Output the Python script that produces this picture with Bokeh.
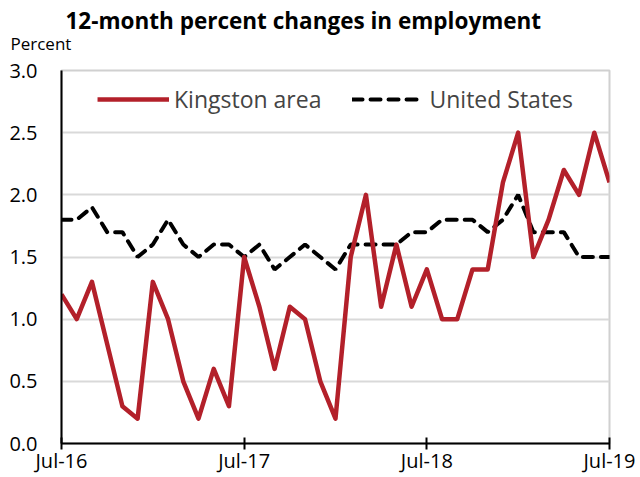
from bokeh.plotting import figure
from bokeh.models import FixedTicker, Label, Legend, LegendItem, NumeralTickFormatter
from bokeh.embed import file_html
from bokeh.resources import INLINE

months = list(range(37))
tick_positions = [0, 12, 24, 36]
tick_labels = ["Jul-16", "Jul-17", "Jul-18", "Jul-19"]

kingston = [1.2, 1.0, 1.3, 0.8, 0.3, 0.2, 1.3, 1.0, 0.5, 0.2, 0.6, 0.3,
            1.5, 1.1, 0.6, 1.1, 1.0, 0.5, 0.2, 1.5, 2.0, 1.1, 1.6, 1.1,
            1.4, 1.0, 1.0, 1.4, 1.4, 2.1, 2.5, 1.5, 1.8, 2.2, 2.0, 2.5, 2.1]
united_states = [1.8, 1.8, 1.9, 1.7, 1.7, 1.5, 1.6, 1.8, 1.6, 1.5, 1.6, 1.6,
                 1.5, 1.6, 1.4, 1.5, 1.6, 1.5, 1.4, 1.6, 1.6, 1.6, 1.6, 1.7,
                 1.7, 1.8, 1.8, 1.8, 1.7, 1.8, 2.0, 1.7, 1.7, 1.7, 1.5, 1.5, 1.5]

FONT = "Open Sans"

p = figure(width=640, height=477, output_backend="svg", toolbar_location=None,
           x_range=(0, 36), y_range=(0, 3.0),
           min_border_left=61, min_border_right=31, min_border_top=70, min_border_bottom=34)

p.add_layout(Label(x=4, y=50, x_units="screen", y_units="screen",
                   text="12-month percent changes in employment", text_font=FONT,
                   text_font_size="22.5px", text_font_style="bold", text_color="black",
                   text_baseline="alphabetic", text_align="left"), "above")
p.add_layout(Label(x=-51, y=-4, x_units="screen", y_units="screen",
                   text="Percent", text_font=FONT, text_font_size="17px",
                   text_color="black", text_baseline="alphabetic", text_align="left"), "above")

us_r = p.line(months, united_states, line_color="black", line_width=4,
              line_dash="10 8", line_cap="round")
k_r = p.line(months, kingston, line_color="#B3202A", line_width=4.5, line_join="round")

legend = Legend(items=[LegendItem(label="Kingston area", renderers=[k_r]),
                       LegendItem(label="United States", renderers=[us_r])],
                orientation="horizontal", location="top_center",
                label_text_font=FONT, label_text_font_size="23px",
                glyph_width=72, glyph_height=20, spacing=31, padding=0,
                margin=13, label_standoff=5,
                border_line_color=None, background_fill_alpha=0)
p.add_layout(legend, "center")

p.xaxis.ticker = FixedTicker(ticks=tick_positions)
p.xaxis.major_label_overrides = {t: l for t, l in zip(tick_positions, tick_labels)}
p.xaxis.major_tick_in = 6
p.xaxis.major_tick_out = 6
p.xaxis.major_tick_line_width = 2
p.xaxis.minor_tick_line_color = None
p.xaxis.axis_line_width = 2
p.xaxis.axis_line_color = "black"
p.xaxis.major_label_text_font = FONT
p.xaxis.major_label_text_font_size = "20px"
p.xaxis.major_label_text_color = "black"
p.xaxis.major_label_standoff = -3

p.yaxis.ticker = FixedTicker(ticks=[0, 0.5, 1.0, 1.5, 2.0, 2.5, 3.0])
p.yaxis.formatter = NumeralTickFormatter(format="0.0")
p.yaxis.major_tick_line_color = None
p.yaxis.minor_tick_line_color = None
p.yaxis.axis_line_width = 2
p.yaxis.axis_line_color = "black"
p.yaxis.major_label_text_font = FONT
p.yaxis.major_label_text_font_size = "20px"
p.yaxis.major_label_text_color = "black"
p.yaxis.major_label_standoff = 18

p.xgrid.grid_line_color = None
p.ygrid.grid_line_color = "#D9D9D9"
p.ygrid.grid_line_width = 2
p.outline_line_color = "#D0D0D0"
p.outline_line_width = 2

open("out.html", "w").write(file_html(p, INLINE))
